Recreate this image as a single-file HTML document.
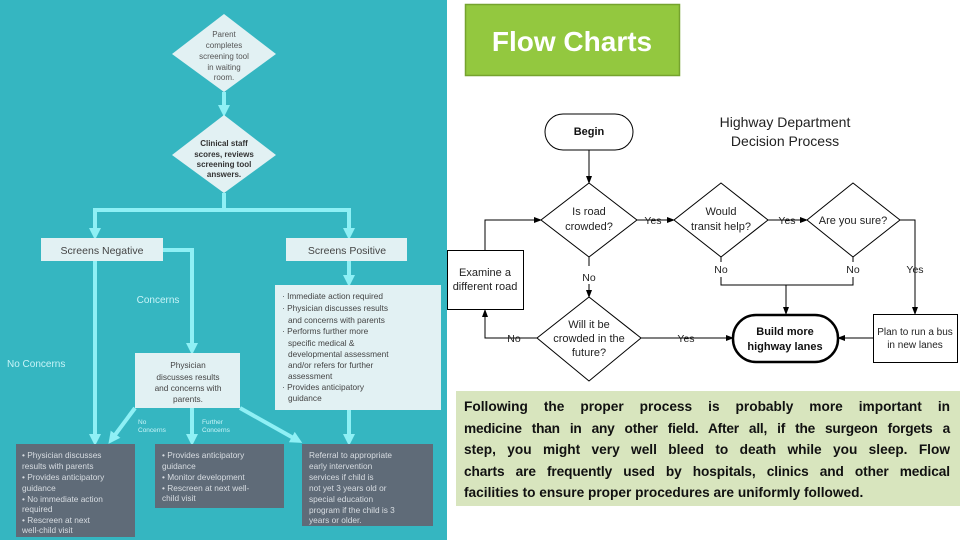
<!DOCTYPE html>
<html><head><meta charset="utf-8"><style>
html,body{margin:0;padding:0;width:960px;height:540px;overflow:hidden;background:#fff;font-family:"Liberation Sans",sans-serif}
.ln{text-align:justify;text-align-last:justify;white-space:nowrap}
</style></head><body>
<svg width="960" height="540" style="position:absolute;left:0;top:0" font-family="Liberation Sans, sans-serif">
<defs>
<marker id="ca" markerWidth="3" markerHeight="3" refX="1.5" refY="1.5" orient="auto" markerUnits="strokeWidth"><path d="M0,0 L3,1.5 L0,3 z" fill="#8ff0f5"/></marker>
<marker id="ba" markerWidth="8" markerHeight="8" refX="7" refY="4" orient="auto" markerUnits="userSpaceOnUse"><path d="M0,1 L8,4 L0,7 z" fill="#000"/></marker>
</defs>
<rect x="0" y="0" width="447" height="540" fill="#35b6c1"/>
<g stroke="#8ff0f5" stroke-width="4" fill="none">
<line x1="224" y1="92" x2="224" y2="111" marker-end="url(#ca)"/>
<polyline points="224,193 224,210 95,210 95,234" marker-end="url(#ca)"/>
<polyline points="224,210 349,210 349,234" marker-end="url(#ca)"/>
<polyline points="163,250 192,250 192,349" marker-end="url(#ca)"/>
<line x1="95" y1="261" x2="95" y2="440" marker-end="url(#ca)"/>
<line x1="349" y1="261" x2="349" y2="281" marker-end="url(#ca)"/>
<line x1="349" y1="410" x2="349" y2="440" marker-end="url(#ca)"/>
<line x1="135" y1="408" x2="112" y2="439" marker-end="url(#ca)"/>
<line x1="192" y1="408" x2="192" y2="440" marker-end="url(#ca)"/>
<line x1="240" y1="408" x2="297" y2="440" marker-end="url(#ca)"/>
</g>
<polygon points="224,14 276,54 224,92 172,54" fill="#e2f1f3"/>
<polygon points="224,115 276,155 224,193 172,155" fill="#e2f1f3"/>
<g font-size="8" fill="#555" text-anchor="middle">
<text x="224" y="37">Parent</text><text x="224" y="48">completes</text><text x="224" y="59">screening tool</text><text x="224" y="70">in waiting</text><text x="224" y="80">room.</text>
</g>
<g font-size="8" fill="#333" font-weight="bold" text-anchor="middle">
<text x="224" y="146">Clinical staff</text><text x="224" y="157">scores, reviews</text><text x="224" y="167">screening tool</text><text x="224" y="177">answers.</text>
</g>
<rect x="41" y="238" width="122" height="23" fill="#e2f1f3"/>
<rect x="286" y="238" width="121" height="23" fill="#e2f1f3"/>
<text x="102" y="254" font-size="10.5" fill="#444" text-anchor="middle">Screens Negative</text>
<text x="347" y="254" font-size="10.5" fill="#444" text-anchor="middle">Screens Positive</text>
<text x="158" y="303" font-size="10" fill="#c8f4f8" text-anchor="middle">Concerns</text>
<text x="7" y="367" font-size="10" fill="#c8f4f8">No Concerns</text>
<rect x="275" y="285" width="166" height="125" fill="#e2f1f3"/>
<g font-size="8.3" fill="#444">
<text x="282" y="299">· Immediate action required</text>
<text x="282" y="311">· Physician discusses results</text>
<text x="288" y="323">and concerns with parents</text>
<text x="282" y="334">· Performs further more</text>
<text x="288" y="346">specific medical &amp;</text>
<text x="288" y="357">developmental assessment</text>
<text x="288" y="368">and/or refers for further</text>
<text x="288" y="379">assessment</text>
<text x="282" y="390">· Provides anticipatory</text>
<text x="288" y="401">guidance</text>
</g>
<rect x="135" y="353" width="105" height="55" fill="#e2f1f3"/>
<g font-size="8.3" fill="#444" text-anchor="middle">
<text x="188" y="368">Physician</text><text x="188" y="380">discusses results</text><text x="188" y="391">and concerns with</text><text x="188" y="402">parents.</text>
</g>
<g font-size="6.5" fill="#c8f4f8">
<text x="138" y="424">No</text><text x="138" y="432">Concerns</text>
<text x="202" y="424">Further</text><text x="202" y="432">Concerns</text>
</g>
<rect x="16" y="444" width="119" height="93" fill="#5f6b78"/>
<rect x="155" y="444" width="129" height="64" fill="#5f6b78"/>
<rect x="302" y="444" width="131" height="82" fill="#5f6b78"/>
<g font-size="8.3" fill="#d8dde2">
<text x="22" y="458">• Physician discusses</text><text x="22" y="469">results with parents</text><text x="22" y="480">• Provides anticipatory</text><text x="22" y="491">guidance</text><text x="22" y="502">• No immediate action</text><text x="22" y="512">required</text><text x="22" y="523">• Rescreen at next</text><text x="22" y="533">well-child visit</text>
<text x="162" y="458">• Provides anticipatory</text><text x="162" y="469">guidance</text><text x="162" y="480">• Monitor development</text><text x="162" y="491">• Rescreen at next well-</text><text x="162" y="501">child visit</text>
<text x="309" y="458">Referral to appropriate</text><text x="309" y="469">early intervention</text><text x="309" y="480">services if child is</text><text x="309" y="491">not yet 3 years old or</text><text x="309" y="502">special education</text><text x="309" y="513">program if the child is 3</text><text x="309" y="523">years or older.</text>
</g>
<rect x="465.5" y="4.5" width="214" height="71" fill="#93c83f" stroke="#75a32e" stroke-width="1.5"/>
<text x="572" y="51" font-size="28" font-weight="bold" fill="#fff" text-anchor="middle">Flow Charts</text>
<g stroke="#000" stroke-width="1" fill="none">
<rect x="545" y="114" width="88" height="36" rx="18"/>
<line x1="589" y1="150" x2="589" y2="183" marker-end="url(#ba)"/>
<polygon points="589,183 637,220 589,257 541,220"/>
<polygon points="721,183 768,220 721,257 674,220"/>
<polygon points="853,183 900,220 853,257 807,220"/>
<polygon points="589,297 641,338 589,381 537,338"/>
<line x1="637" y1="220" x2="674" y2="220" marker-end="url(#ba)"/>
<line x1="768" y1="220" x2="807" y2="220" marker-end="url(#ba)"/>
<polyline points="900,220 915,220 915,314" marker-end="url(#ba)"/>
<line x1="721" y1="257" x2="721" y2="262"/>
<line x1="853" y1="257" x2="853" y2="262"/>
<polyline points="721,277 721,285 853,285 853,277"/>
<line x1="786" y1="285" x2="786" y2="314" marker-end="url(#ba)"/>
<line x1="589" y1="257" x2="589" y2="266"/>
<line x1="589" y1="284" x2="589" y2="297" marker-end="url(#ba)"/>
<line x1="641" y1="338" x2="733" y2="338" marker-end="url(#ba)"/>
<line x1="873" y1="338" x2="838" y2="338" marker-end="url(#ba)"/>
<polyline points="537,338 485,338 485,310" marker-end="url(#ba)"/>
<polyline points="485,250 485,220 541,220" marker-end="url(#ba)"/>
<rect x="447.5" y="250.5" width="76" height="59" fill="#fff"/>
<rect x="873.5" y="314.5" width="84" height="48" fill="#fff"/>
<rect x="733" y="315" width="105" height="47" rx="23" stroke-width="2.5" fill="#fff"/>
</g>
<g font-size="11" fill="#222" text-anchor="middle">
<text x="589" y="215">Is road</text><text x="589" y="230">crowded?</text>
<text x="721" y="215">Would</text><text x="721" y="230">transit help?</text>
<text x="853" y="224">Are you sure?</text>
<text x="589" y="328">Will it be</text><text x="589" y="342">crowded in the</text><text x="589" y="356">future?</text>
<text x="485" y="276">Examine a</text><text x="485" y="290">different road</text>
<text x="915" y="335" font-size="10">Plan to run a bus</text><text x="915" y="348" font-size="10">in new lanes</text>
<text x="785" y="127" font-size="14">Highway Department</text><text x="785" y="146" font-size="14">Decision Process</text>
<text x="653" y="224" font-size="10.5">Yes</text><text x="787" y="224" font-size="10.5">Yes</text>
<text x="721" y="273" font-size="10.5">No</text><text x="853" y="273" font-size="10.5">No</text><text x="915" y="273" font-size="10.5">Yes</text>
<text x="589" y="281" font-size="10.5">No</text>
<text x="686" y="342" font-size="10.5">Yes</text><text x="514" y="342" font-size="10.5">No</text>
</g>
<g font-size="11" font-weight="bold" fill="#111" text-anchor="middle">
<text x="589" y="135">Begin</text>
<text x="785" y="335">Build more</text><text x="785" y="350">highway lanes</text>
</g>
<rect x="456" y="391" width="504" height="115" fill="#d8e5be"/>
</svg>
<div style="position:absolute;left:464px;top:396px;width:486px;font-size:13.7px;font-weight:bold;line-height:21.5px;color:#111">
<div class="ln">Following the proper process is probably more important in</div>
<div class="ln" style="letter-spacing:-0.2px">medicine than in any other field. After all, if the surgeon forgets a</div>
<div class="ln">step, you might very well bleed to death while you sleep. Flow</div>
<div class="ln" style="letter-spacing:-0.1px">charts are frequently used by hospitals, clinics and other medical</div>
<div>facilities to ensure proper procedures are uniformly followed.</div>
</div>
</body></html>
